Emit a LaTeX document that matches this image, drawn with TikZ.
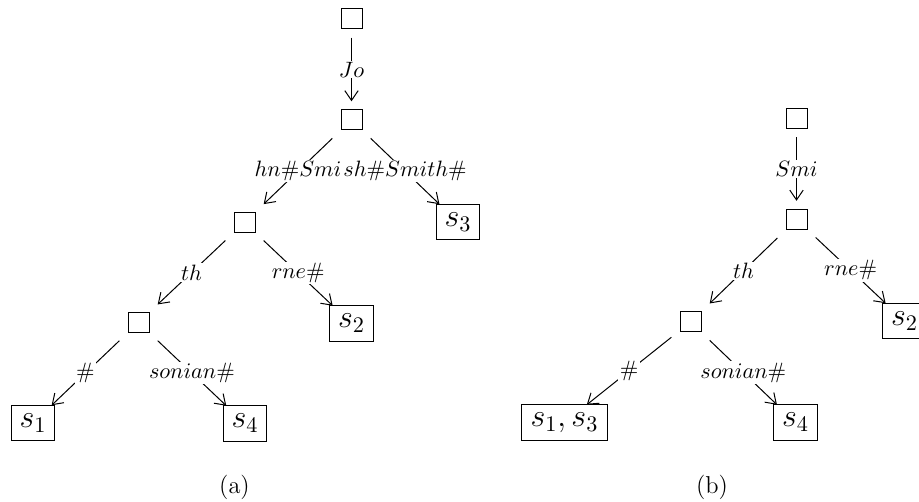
\documentclass[tikz,border=0pt]{standalone}
\usetikzlibrary{arrows.meta}
\begin{document}
\begin{tikzpicture}[x=0.45pt,y=-0.45pt,
  inner/.style={draw,line width=0.45pt,minimum width=9.45pt,minimum height=9pt,inner sep=0pt,outer sep=3.9pt},
  leaf/.style={draw,line width=0.45pt,minimum width=19.6pt,minimum height=16pt,inner sep=2pt,outer sep=0pt,font=\fontsize{14}{16}\selectfont},
  edge/.style={line width=0.45pt,-{Straight Barb[length=4.4pt,width=6pt]}},
  lbl/.style={fill=white,inner sep=0.6pt,font=\normalsize},
  captext/.style={font=\fontsize{11}{13}\selectfont}]
\useasboundingbox (0,0) rectangle (919,502);
% tree (a)
\node[inner] (a0) at (351.5,19) {};
\node[inner] (a1) at (351.5,120) {};
\node[inner] (a2) at (244.5,222.5) {};
\node[leaf]  (a3) at (458,222) {$s_3$};
\node[inner] (a4) at (138.5,322.5) {};
\node[leaf]  (a5) at (351.5,323.5) {$s_2$};
\node[leaf]  (a6) at (33,423) {$s_1$};
\node[leaf]  (a7) at (245,423.5) {$s_4$};
\node[captext] (ca) at (234.5,487) {(a)};
\draw[edge] (a0) -- node[lbl]{$Jo$} (a1);
\draw[edge] (a1) -- node[lbl]{$hn\#Smi$} (a2);
\draw[edge] (a1) -- node[lbl]{$sh\#Smith\#$} (a3);
\draw[edge] (a2) -- node[lbl]{$th$} (a4);
\draw[edge] (a2) -- node[lbl]{$rne\#$} (a5);
\draw[edge] (a4) -- node[lbl]{$\#$} (a6);
\draw[edge] (a4) -- node[lbl]{$sonian\#$} (a7);
% tree (b)
\node[inner] (b0) at (796.5,118.5) {};
\node[inner] (b1) at (796.5,219.5) {};
\node[inner] (b2) at (690.5,322) {};
\node[leaf]  (b3) at (904.5,321) {$s_2$};
\node[leaf,minimum width=38.3pt] (b4) at (564.5,422.5) {$s_1, s_3$};
\node[leaf]  (b5) at (795.5,422.5) {$s_4$};
\node[captext] (cb) at (712,487) {(b)};
\draw[edge] (b0) -- node[lbl]{$Smi$} (b1);
\draw[edge] (b1) -- node[lbl]{$th$} (b2);
\draw[edge] (b1) -- node[lbl]{$rne\#$} (b3);
\draw[edge] (b2) -- node[lbl]{$\#$} (b4);
\draw[edge] (b2) -- node[lbl]{$sonian\#$} (b5);
\end{tikzpicture}
\end{document}
